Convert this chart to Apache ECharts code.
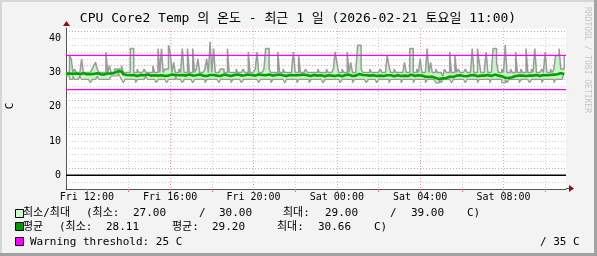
<!DOCTYPE html>
<html><head><meta charset="utf-8">
<script src="https://cdn.jsdelivr.net/npm/echarts@6/dist/echarts.min.js"></script>
<style>html,body{margin:0;padding:0;background:#f3f3f3}#c{width:597px;height:256px}</style>
</head><body><div id="c"></div>
<script>
// 5-minute samples from Fri 2026-02-20 11:00 to Sat 2026-02-21 11:00
const stepMinutes = 5;
const maxTemp = [
 30,30,35,34,30,31,30,30,30,34,30,30,
 30,30,30,31,32,33,31,30,30,30,30,36,
 30,32,30,30,31,31,31,31,32,30,30,30,
 30,37,37,30,30,31,30,30,30,31,30,30,
 30,30,32,30,30,37,30,37,30,31,31,38,
 36,30,33,30,30,31,30,37,30,30,37,30,
 30,37,30,31,34,30,30,30,31,34,30,39,
 30,37,30,30,30,31,31,30,30,37,30,30,
 30,30,31,30,30,30,31,30,30,36,30,30,
 30,31,36,30,30,30,31,37,37,31,30,30,
 30,30,36,30,30,31,30,30,30,30,31,36,
 30,30,35,30,30,30,31,30,30,30,30,30,
 30,31,30,30,30,30,31,30,30,30,31,36,
 33,30,30,31,30,30,36,30,33,30,30,31,
 38,38,31,30,30,30,30,31,30,30,30,30,
 30,31,30,30,30,35,32,30,30,31,30,30,
 30,30,30,33,30,30,37,37,30,30,31,30,
 34,30,30,30,37,30,33,30,30,31,30,30,
 30,29,31,30,30,36,30,30,35,30,31,30,
 30,30,31,30,30,30,37,30,30,37,33,30,
 30,31,36,30,30,30,37,37,33,30,30,31,
 30,38,30,30,31,30,30,36,30,30,31,30,
 30,37,30,30,31,30,37,30,30,30,31,30,
 36,30,30,31,30,31,35,35,37,31,31,35
];
const minTemp = [
 29,29,28,28,29,28,28,28,29,28,28,28,
 28,28,27,28,28,28,29,28,28,28,28,28,
 28,28,29,29,29,29,30,29,28,27,28,28,
 28,28,28,28,27,28,28,28,28,28,29,28,
 28,28,28,28,27,28,28,28,28,28,27,28,
 28,28,28,29,28,28,28,27,28,28,28,28,
 28,27,28,28,28,28,28,28,27,28,28,28,
 28,28,28,28,27,28,28,28,28,28,28,27,
 28,28,28,28,28,27,28,28,28,28,28,28,
 28,28,28,27,28,28,28,28,28,28,27,28,
 28,28,28,28,28,28,27,28,28,28,28,28,
 28,27,28,28,28,28,28,28,27,28,28,28,
 28,28,28,28,27,28,28,28,28,28,28,28,
 28,28,27,28,28,28,28,28,28,27,28,28,
 28,28,28,28,28,27,28,28,28,28,28,27,
 28,28,28,28,28,28,27,28,28,28,28,28,
 28,27,28,28,28,28,28,28,27,28,28,28,
 28,28,28,27,28,28,28,28,28,27,27,28,
 27,28,28,28,28,28,27,28,28,28,28,28,
 28,28,27,28,28,28,28,28,28,27,28,28,
 28,28,28,28,27,28,28,28,28,28,28,27,
 27,28,27,28,28,28,28,28,28,27,28,28,
 28,28,28,27,28,28,28,28,28,28,27,28,
 28,28,28,28,28,27,28,28,28,28,29,29
];
const avgTemp = [
 29.6,29.7,29.8,29.6,29.5,29.7,29.6,29.5,29.6,29.8,29.6,29.5,
 29.6,29.5,29.4,29.6,29.7,29.8,29.6,29.5,29.6,29.4,29.5,29.7,
 29.6,29.7,29.8,29.9,30.1,30.4,30.66,30.3,29.9,29.5,29.3,29.4,
 29.2,29.4,29.3,29.1,29.0,29.2,29.3,29.1,29.2,29.3,29.4,29.2,
 29.1,29.3,29.2,29.0,29.1,29.3,29.2,29.1,29.0,29.2,29.1,29.3,
 29.4,29.2,29.3,29.1,29.2,29.4,29.3,29.2,29.1,29.3,29.4,29.2,
 29.1,29.0,29.2,29.3,29.4,29.2,29.1,29.3,29.0,29.2,29.3,29.5,
 29.3,29.2,29.1,29.3,29.0,29.2,29.4,29.3,29.2,29.1,29.0,29.2,
 29.3,29.2,29.4,29.3,29.1,29.0,29.2,29.3,29.4,29.5,29.3,29.2,
 29.1,29.3,29.4,29.2,29.3,29.1,29.2,29.5,29.4,29.3,29.1,29.2,
 29.3,29.2,29.4,29.1,29.2,29.3,29.0,29.2,29.3,29.4,29.2,29.3,
 29.2,29.0,29.3,29.2,29.4,29.3,29.2,29.1,29.0,29.2,29.3,29.2,
 29.1,29.3,29.2,29.0,28.9,29.1,29.2,29.3,29.1,29.2,29.0,29.3,
 29.2,29.1,28.9,29.2,29.3,29.1,29.4,29.2,29.0,28.9,29.1,29.2,
 29.6,29.5,29.3,29.1,29.2,29.0,29.1,29.3,29.2,29.1,29.0,28.9,
 29.1,29.2,29.0,29.1,29.2,29.4,29.2,29.0,28.9,29.1,29.2,29.1,
 29.0,28.9,29.1,29.2,29.0,29.1,29.4,29.3,29.0,29.1,29.2,29.0,
 29.1,29.0,28.8,28.6,28.7,28.5,28.8,28.6,28.4,28.3,28.11,28.4,
 28.3,28.5,28.4,28.6,28.8,29.0,28.7,28.9,29.1,29.0,29.2,29.1,
 29.0,29.1,28.9,29.0,29.2,29.1,29.3,29.0,28.9,29.2,29.1,29.0,
 29.1,29.2,29.3,29.1,29.0,29.2,29.4,29.3,29.1,29.0,28.9,28.7,
 28.5,28.6,28.4,28.3,28.6,28.8,29.0,29.2,29.1,29.0,29.1,29.2,
 29.0,29.2,29.1,28.9,29.1,29.2,29.3,29.1,29.0,29.2,29.3,29.1,
 29.2,29.1,29.3,29.2,29.4,29.3,29.5,29.6,29.8,29.5,29.6,29.7
];
const thresholdWarn = 25;
const thresholdCrit = 35;
const zeroLine = 0;
const spanHours = 24;
const xTickOffsets = [1, 5, 9, 13, 17, 21];   // hours after Fri 11:00
const xTickLabels = ['Fri 12:00','Fri 16:00','Fri 20:00','Sat 00:00','Sat 04:00','Sat 08:00'];
const yTickLabels = [0, 10, 20, 30, 40];

const MONO = "'DejaVu Sans Mono','Noto Sans CJK KR',monospace";
const hrs = i => i * stepMinutes / 60;
// value first, hour second (encode maps them) so that stacking acts on the value
const minStack = minTemp.map((v, i) => [v, hrs(i)]);
const bandStack = maxTemp.map((v, i) => [v - minTemp[i], hrs(i)]);
const minData = minTemp.map((v, i) => [hrs(i), v]);
const maxData = maxTemp.map((v, i) => [hrs(i), v]);
const avgData = avgTemp.map((v, i) => [hrs(i), v]);
const hrule = v => [[0, v], [spanHours, v]];

const GREY = '#d2d2d2', RED = '#f2a0a0';

function txt(x, y, s, size, opts) {
  return Object.assign({
    type: 'text', x: x, y: y, silent: true,
    style: Object.assign({text: s, font: (size||11) + 'px ' + MONO, fill: '#000',
      textAlign: 'left', align: 'left', textVerticalAlign: 'middle', verticalAlign: 'middle'}, (opts && opts.style) || {})
  }, (opts && opts.el) || {});
}
function box(x, y, color) {
  return {type: 'rect', silent: true, shape: {x: x, y: y, width: 8, height: 8},
    style: {fill: color, stroke: '#000', lineWidth: 1}};
}

const graphics = [
  {type:'rect', silent:true, shape:{x:0,y:0,width:597,height:2}, style:{fill:'#d6d6d6'}},
  {type:'rect', silent:true, shape:{x:0,y:0,width:2,height:256}, style:{fill:'#d6d6d6'}},
  {type:'rect', silent:true, shape:{x:594,y:0,width:3,height:256}, style:{fill:'#a2a2a2'}},
  {type:'rect', silent:true, shape:{x:0,y:253,width:597,height:3}, style:{fill:'#a2a2a2'}},
  txt(298, 19, 'CPU Core2 Temp 의 온도 - 최근 1 일 (2026-02-21 토요일 11:00)', 13,
      {style:{textAlign:'center', align:'center'}}),
  txt(10, 106, 'C', 11, {style:{textAlign:'center', align:'center'}, el:{rotation: Math.PI/2}}),
  txt(587, 60, 'RRDTOOL / TOBI OETIKER', 8, {style:{textAlign:'center', align:'center', fill:'#c4c4c4'}, el:{rotation: -Math.PI/2}}),
  {type:'polygon', silent:true, shape:{points:[[63,26],[70,26],[66.5,21]]}, style:{fill:'#8b1010'}},
  {type:'line', silent:true, shape:{x1:566,y1:188.5,x2:570,y2:188.5}, style:{stroke:'#555',lineWidth:1}},
  {type:'polygon', silent:true, shape:{points:[[569,185],[569,192],[574,188.5]]}, style:{fill:'#8b1010'}},
  box(15.5, 209.5, '#ccffcc'),
  txt(23, 213.5, '최소/최대'), txt(86, 213.5, '(최소:'), txt(133, 213.5, '27.00'), txt(199, 213.5, '/'),
  txt(219, 213.5, '30.00'), txt(283, 213.5, '최대:'), txt(325, 213.5, '29.00'), txt(390, 213.5, '/'),
  txt(411, 213.5, '39.00'), txt(467, 213.5, 'C)'),
  box(15.5, 222.5, '#009900'),
  txt(23, 227, '평균'), txt(59, 227, '(최소:'), txt(106, 227, '28.11'), txt(172, 227, '평균:'),
  txt(212, 227, '29.20'), txt(277, 227, '최대:'), txt(318, 227, '30.66'), txt(374, 227, 'C)'),
  box(15.5, 237.5, '#ff00ff'),
  txt(30, 242, 'Warning threshold: ' + thresholdWarn + ' C'),
  txt(540, 242, '/ ' + thresholdCrit + ' C')
];

const chart = echarts.init(document.getElementById('c'), null, {renderer: 'canvas'});
chart.setOption({
  animation: false,
  backgroundColor: '#f3f3f3',
  grid: {left: 66, top: 28, width: 500, height: 161, show: true, backgroundColor: '#ffffff', borderWidth: 0},
  xAxis: {
    type: 'value', min: 0, max: spanHours, interval: 1,
    axisLine: {show: true, onZero: false, lineStyle: {color: '#555', width: 1}},
    axisTick: {show: true, length: 3, customValues: [1,3,5,7,9,11,13,15,17,19,21,23], lineStyle: {color: '#f08080'}},
    axisLabel: {
      customValues: xTickOffsets,
      formatter: v => { const k = xTickOffsets.indexOf(Math.round(v)); return k >= 0 ? xTickLabels[k] : ''; },
      fontFamily: MONO, fontSize: 10, color: '#000', margin: 3
    },
    splitLine: {show: true, showMinLine: false, showMaxLine: true, lineStyle: {color: [GREY, RED], type: [1, 2], width: 1}}
  },
  yAxis: {
    type: 'value', min: -4, max: 43, interval: 2,
    axisLine: {show: true, lineStyle: {color: '#555', width: 1}},
    axisTick: {show: false},
    axisLabel: {
      formatter: v => yTickLabels.indexOf(v) >= 0 ? String(v) : '',
      fontFamily: MONO, fontSize: 10, color: '#000', margin: 5
    },
    splitLine: {show: true, showMinLine: false, showMaxLine: false,
      lineStyle: {color: [GREY, GREY, RED, GREY, GREY], type: [1, 2], width: 1}}
  },
  series: [
    {type: 'line', data: minStack, encode: {x: 1, y: 0}, stack: 'band', step: 'end', symbol: 'none', silent: true,
     lineStyle: {width: 0, opacity: 0}, z: 2},
    {type: 'line', data: bandStack, encode: {x: 1, y: 0}, stack: 'band', step: 'end', symbol: 'none', silent: true,
     lineStyle: {width: 0, opacity: 0}, areaStyle: {color: '#c4f7c4', opacity: 1}, z: 2},
    {type: 'line', data: maxData, step: 'end', symbol: 'none', silent: true,
     lineStyle: {color: '#9a9a9a', width: 1.5}, z: 3},
    {type: 'line', data: minData, step: 'end', symbol: 'none', silent: true,
     lineStyle: {color: '#9a9a9a', width: 1.3}, z: 3},
    {type: 'line', data: avgData, step: 'end', symbol: 'none', silent: true,
     lineStyle: {color: '#00a000', width: 2.6}, z: 4},
    {type: 'line', data: hrule(thresholdWarn), symbol: 'none', silent: true,
     lineStyle: {color: '#ff00ff', width: 1.2}, z: 5},
    {type: 'line', data: hrule(thresholdCrit), symbol: 'none', silent: true,
     lineStyle: {color: '#ff00ff', width: 1.2}, z: 5},
    {type: 'line', data: hrule(zeroLine), symbol: 'none', silent: true,
     lineStyle: {color: '#000000', width: 1.5}, z: 5}
  ],
  graphic: graphics
});
</script>
</body></html>
